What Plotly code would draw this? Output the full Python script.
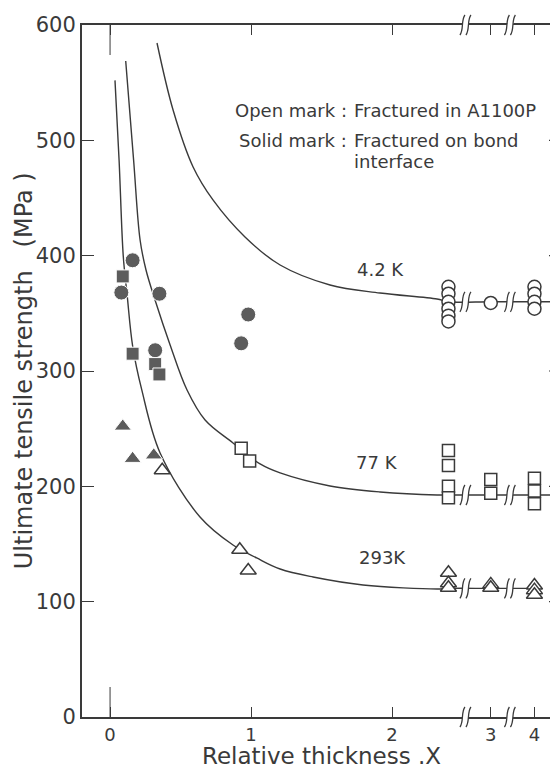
import numpy as np
import plotly.graph_objects as go

# ---------------- axis definitions (broken x axis) ----------------
x_tick_real = [0, 1, 2, 3, 4]
x_tick_text = ["0", "1", "2", "3", "4"]
# knots of the broken x scale: real thickness -> position on the drawn axis
scale_real = [0.0, 2.5, 3.0, 4.0, 5.0]
scale_pos = [0.0, 2.5, 2.70, 3.01, 3.17]
x_break_real = [2.56, 3.45]
y_ticks = [0, 100, 200, 300, 400, 500, 600]
y_right_ticks = [100, 200, 300, 400, 500]


def xpos(vals):
    return [float(np.interp(v, scale_real, scale_pos)) for v in vals]


# ---------------- fitted curves ----------------
c42_x = [0.333, 0.447, 0.589, 0.730, 0.957, 1.206, 1.560, 1.915, 2.319, 2.4, 3, 4, 4.9]
c42_y = [584.4, 526.3, 476.9, 448.3, 416.2, 391.9, 374.6, 367.6, 362.4, 360, 360, 360, 360]

c77_x = [0.111, 0.167, 0.213, 0.255, 0.319, 0.426, 0.546, 0.674, 0.872, 1.064, 1.206, 1.560,
         1.915, 2.319, 2.4, 3, 4, 4.7]
c77_y = [568.8, 483.0, 413.6, 387.6, 361.6, 322.6, 283.5, 257.5, 237.6, 219.4, 211.6, 200.3,
         195.1, 192.5, 192.5, 192.5, 192.5, 192.5]

c293_x = [0.035, 0.064, 0.094, 0.121, 0.161, 0.225, 0.355, 0.638, 0.872, 1.040, 1.206, 1.440,
          1.794, 2.319, 2.4, 3, 4, 4.3]
c293_y = [552, 483, 399, 366, 321, 283.6, 228.9, 173.4, 149.1, 137.9, 128.3, 121.4,
          114.5, 111.0, 111.5, 111.5, 111.5, 111.5]

# ---------------- measured points ----------------
# solid marks: fractured on bond interface
solid_42_x = [0.16, 0.08, 0.35, 0.32, 0.98, 0.93]
solid_42_y = [396, 368, 367, 318, 349, 324]
solid_77_x = [0.09, 0.16, 0.32, 0.35]
solid_77_y = [382, 315, 306, 297]
solid_293_x = [0.09, 0.16, 0.31]
solid_293_y = [252, 224, 227]

# open marks: fractured in A1100P
open_42_x = [2.4, 2.4, 2.4, 2.4, 2.4, 2.4, 3, 4, 4, 4, 4]
open_42_y = [373, 367, 360, 354, 348, 343, 359, 373, 367, 360, 354]
open_77_x = [0.93, 0.99, 2.4, 2.4, 2.4, 2.4, 3, 3, 4, 4, 4]
open_77_y = [233, 222, 231, 218, 200, 190, 206, 194, 207, 196, 185]
open_293_x = [0.37, 0.92, 0.98, 2.4, 2.4, 2.4, 3, 3, 4, 4, 4]
open_293_y = [214, 145, 127, 125, 116, 112, 115, 112, 114, 110, 106]

temp_labels = ["4.2 K", "77 K", "293K"]
temp_label_x = [1.915, 1.894, 1.93]
temp_label_y = [388, 221, 138]

INK = "#3a3a3a"
FILL = "#5c5c5c"
FONT = "DejaVu Sans"

fig = go.Figure()

for cx, cy in [(c42_x, c42_y), (c77_x, c77_y), (c293_x, c293_y)]:
    fig.add_trace(go.Scatter(x=xpos(cx), y=cy, mode="lines",
                             line=dict(color=INK, width=1.4, shape="spline", smoothing=1.0),
                             hoverinfo="skip", showlegend=False))

solid = [(solid_42_x, solid_42_y, "circle", 15),
         (solid_77_x, solid_77_y, "square", 13),
         (solid_293_x, solid_293_y, "triangle-up", 15)]
for sx, sy, sym, sz in solid:
    fig.add_trace(go.Scatter(x=xpos(sx), y=sy, mode="markers",
                             marker=dict(symbol=sym, size=sz, color=FILL,
                                         line=dict(color="white", width=1)),
                             showlegend=False))

opened = [(open_42_x, open_42_y, "circle", 13),
          (open_77_x, open_77_y, "square", 12),
          (open_293_x, open_293_y, "triangle-up", 14)]
for ox, oy, sym, sz in opened:
    fig.add_trace(go.Scatter(x=xpos(ox), y=oy, mode="markers",
                             marker=dict(symbol=sym, size=sz, color="white",
                                         line=dict(color=INK, width=1.5)),
                             showlegend=False))

# ---------------- axis-break marks ----------------
shapes = []


def add_break(xp, yref, yanchor):
    common = dict(type="path", xref="x", yref=yref, xsizemode="pixel", ysizemode="pixel",
                  xanchor=xp, yanchor=yanchor, layer="above")
    shapes.append(dict(common, path="M -6,-10 L -1,10 L 5,10 L 0,-10 Z",
                       fillcolor="white", line=dict(width=0)))
    shapes.append(dict(common, path="M -6,-10 C -2,-5 -5,5 -1,10 M 0,-10 C 4,-5 1,5 5,10",
                       fillcolor="rgba(0,0,0,0)", line=dict(color=INK, width=1.3)))


for xb in xpos(x_break_real):
    add_break(xb, "paper", 0)
    add_break(xb, "paper", 1)
    for level in [c42_y[-1], c77_y[-1], c293_y[-1]]:
        add_break(xb, "y", level)

# long ticks at x = 0 (bottom and top)
for anchor, y0, y1 in [(0, 0, 30), (1, 0, -30)]:
    shapes.append(dict(type="line", xref="x", yref="paper", ysizemode="pixel", yanchor=anchor,
                       x0=0, x1=0, y0=y0, y1=y1, line=dict(color=INK, width=1)))

# inward ticks on the right-hand edge
for yt in y_right_ticks:
    shapes.append(dict(type="line", xref="paper", yref="y", xsizemode="pixel", xanchor=1,
                       x0=-9, x1=0, y0=yt, y1=yt, line=dict(color=INK, width=1.2)))

annotations = []
for t, tx, ty in zip(temp_labels, temp_label_x, temp_label_y):
    annotations.append(dict(x=tx, y=ty, xref="x", yref="y", text=t, showarrow=False,
                            font=dict(family=FONT, size=18, color=INK)))

note_font = dict(family=FONT, size=18, color=INK)
annotations += [
    dict(x=1.695, y=526, xref="x", yref="y", text="Open mark :", xanchor="right",
         showarrow=False, font=note_font),
    dict(x=1.716, y=526, xref="x", yref="y", text="Fractured in A1100P", xanchor="left",
         showarrow=False, font=note_font),
    dict(x=1.695, y=500, xref="x", yref="y", text="Solid mark :", xanchor="right",
         showarrow=False, font=note_font),
    dict(x=1.716, y=500, xref="x", yref="y", text="Fractured on bond", xanchor="left",
         showarrow=False, font=note_font),
    dict(x=1.716, y=482, xref="x", yref="y", text="interface", xanchor="left",
         showarrow=False, font=note_font),
    dict(x=1.5, y=-0.035, xref="x", yref="paper", text="Relative thickness .X",
         xanchor="center", yanchor="top",
         showarrow=False, font=dict(family=FONT, size=23, color=INK)),
    dict(x=-0.122, y=0.501, xref="paper", yref="paper", xanchor="center", yanchor="middle",
         text="Ultimate tensile strength\u00a0\u00a0\u00a0(MPa )", textangle=-90,
         showarrow=False, font=dict(family=FONT, size=24, color=INK)),
]

# the page body adds an 8 px offset, so the figure is laid out 8 px up and left
fig.update_layout(
    width=550, height=761,
    margin=dict(l=74, r=0, t=17, b=52, autoexpand=False),
    paper_bgcolor="white", plot_bgcolor="white",
    showlegend=False,
    shapes=shapes,
    annotations=annotations,
    xaxis=dict(range=[-0.199, 3.177], tickvals=xpos(x_tick_real), ticktext=x_tick_text,
               ticks="inside", ticklen=10, tickwidth=1, tickcolor=INK,
               showline=True, linecolor=INK, linewidth=2, mirror="ticks",
               showgrid=False, zeroline=False, ticklabelstandoff=0, automargin=False,
               tickfont=dict(family=FONT, size=18, color=INK)),
    yaxis=dict(range=[0, 600], tickvals=y_ticks, ticks="inside", ticklen=12, tickwidth=1.2,
               tickcolor=INK, showline=True, linecolor=INK, linewidth=2,
               showgrid=False, zeroline=False, ticklabelstandoff=0, automargin=False,
               tickfont=dict(family=FONT, size=21, color=INK)),
)

fig.write_html("out.html")
